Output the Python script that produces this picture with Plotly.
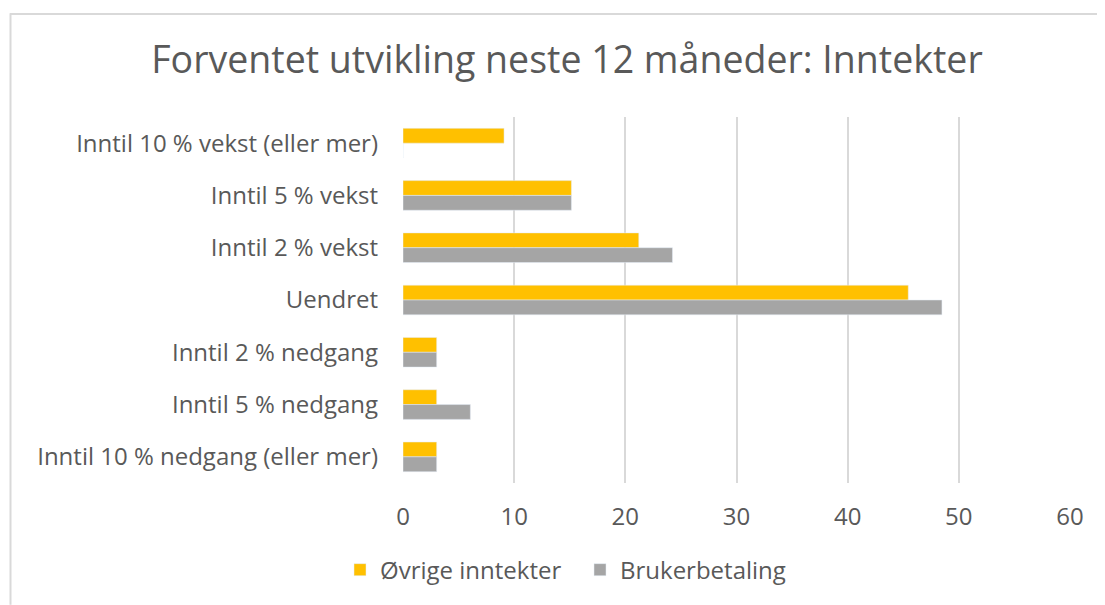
import plotly.graph_objects as go

categories = [
    "Inntil 10 % vekst (eller mer)",
    "Inntil 5 % vekst",
    "Inntil 2 % vekst",
    "Uendret",
    "Inntil 2 % nedgang",
    "Inntil 5 % nedgang",
    "Inntil 10 % nedgang (eller mer)",
]
ovrige = [9.09, 15.15, 21.21, 45.45, 3.03, 3.03, 3.03]
bruker = [0, 15.15, 24.24, 48.48, 3.03, 6.06, 3.03]
x_ticks = [0, 10, 20, 30, 40, 50, 60]

FONT = "Open Sans"
TXT = "#595959"

fig = go.Figure()
fig.add_trace(go.Bar(y=categories, x=ovrige, orientation="h", name="Øvrige inntekter",
                     marker=dict(color="#FFC000")))
fig.add_trace(go.Bar(y=categories, x=bruker, orientation="h", name="Brukerbetaling",
                     marker=dict(color="#A5A5A5")))

OFF = 8  # page body margin offset
W, H = 1105 - OFF, 605 - OFF
L, T = 403 - OFF, 117 - OFF
PR, PB = 1070 - OFF, 487 - OFF
R, B = W - PR, H - PB
pw = W - L - R
ph = H - T - B

def px2x(p):
    return (p - OFF - L) / pw

def py2y(p):
    return 1 - (p - OFF - T) / ph

fig.update_layout(
    width=W, height=H,
    margin=dict(l=L, r=R, t=T, b=B),
    paper_bgcolor="white", plot_bgcolor="white",
    barmode="group", bargap=0.433, bargroupgap=0,
    font=dict(family=FONT, color=TXT, size=24),
    title=dict(text="Forventet utvikling neste 12 måneder: Inntekter",
               x=px2x(567), xanchor="center", xref="paper",
               y=1 - (60 - OFF) / H, yanchor="middle",
               font=dict(family=FONT, size=37.5, color=TXT)),
    xaxis=dict(range=[0, 60], tickvals=x_ticks, showgrid=True, gridcolor="#D9D9D9",
               gridwidth=2, zeroline=False, showline=False,
               tickfont=dict(size=24, color=TXT), ticklabelstandoff=17),
    yaxis=dict(autorange="reversed", showgrid=False, showline=False, zeroline=False,
               tickfont=dict(size=24, color=TXT), ticklabelstandoff=24),
    legend=dict(orientation="h", x=px2x(340), xanchor="left", y=py2y(575), yanchor="middle",
                font=dict(size=24, color=TXT), traceorder="normal", itemwidth=30,
                entrywidth=195, entrywidthmode="pixels"),
    showlegend=True,
    shapes=[
        dict(type="line", xref="paper", yref="paper", x0=px2x(10), x1=px2x(1110),
             y0=py2y(13), y1=py2y(13), line=dict(color="#D9D9D9", width=2)),
        dict(type="line", xref="paper", yref="paper", x0=px2x(10.5), x1=px2x(10.5),
             y0=py2y(12), y1=py2y(610), line=dict(color="#D9D9D9", width=2)),
    ],
)

fig.write_html("out.html")
